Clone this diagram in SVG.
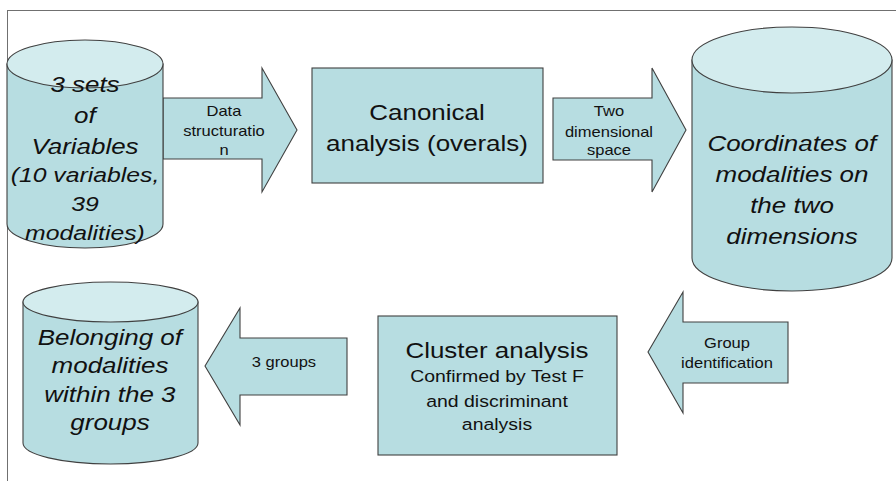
<svg xmlns="http://www.w3.org/2000/svg" width="896" height="481" viewBox="0 0 896 481">
<style>
.sh{fill:#B7DDE1;stroke:#404040;stroke-width:1.1}
.top{fill:#D3ECEE;stroke:#404040;stroke-width:1.1}
text{font-family:"Liberation Sans",Arial,sans-serif;fill:#111;text-anchor:middle;transform-box:fill-box;transform-origin:center;transform:scaleX(1.18)}
.big{font-size:22px}
.it{font-style:italic}
.sm{font-size:14px}
.md{font-size:16.5px}
.v{font-size:21px}
</style>
<rect x="7.5" y="10.5" width="900" height="480" fill="#fff" stroke="#707070" stroke-width="1"/>
<g id="connectors">
<polygon class="sh" points="163,98 262,98 262,68 297,130 262,192 262,159 163,159"/>
<polygon class="sh" points="553,98 652,98 652,68 686,130 652,192 652,160 553,160"/>
<polygon class="sh" points="648,352 683,292 683,322 788,322 788,383 683,383 683,413"/>
<polygon class="sh" points="205,366 240,308 240,338 347,338 347,395 240,395 240,425"/>
<text class="sm" x="224" y="116">Data</text>
<text class="sm" x="224" y="136">structuratio</text>
<text class="sm" x="224" y="155">n</text>
<text class="sm" x="609" y="116">Two</text>
<text class="sm" x="609" y="137">dimensional</text>
<text class="sm" x="609" y="155">space</text>
<text class="sm" x="727" y="348">Group</text>
<text class="sm" x="727" y="368">identification</text>
<text class="sm" x="284" y="367">3 groups</text>
</g>
<g id="variables">
<path class="sh" d="M7,64 L7,224 A78,24 0 0 0 163,224 L163,64 Z"/>
<ellipse class="top" cx="85" cy="64" rx="78" ry="24"/>
<text class="big it" x="85" y="92">3 sets</text>
<text class="big it" x="85" y="123">of</text>
<text class="big it" x="85" y="154">Variables</text>
<text class="v it" x="85" y="182">(10 variables,</text>
<text class="v it" x="85" y="211">39</text>
<text class="v it" x="85" y="240">modalities)</text>
</g>
<g id="canonical">
<rect class="sh" x="312" y="68" width="231" height="115"/>
<text class="big" x="427" y="120">Canonical</text>
<text class="big" x="427" y="151">analysis (overals)</text>
</g>
<g id="coordinates">
<path class="sh" d="M692,60 L692,258 A100,33 0 0 0 892,258 L892,60 Z"/>
<ellipse class="top" cx="792" cy="60" rx="100" ry="33"/>
<text class="big it" x="792" y="151">Coordinates of</text>
<text class="big it" x="792" y="182">modalities on</text>
<text class="big it" x="792" y="213">the two</text>
<text class="big it" x="792" y="244">dimensions</text>
</g>
<g id="cluster">
<rect class="sh" x="378" y="316" width="239" height="139"/>
<text class="big" x="497" y="358">Cluster analysis</text>
<text class="md" x="497" y="382">Confirmed by Test F</text>
<text class="md" x="497" y="407">and discriminant</text>
<text class="md" x="497" y="430">analysis</text>
</g>
<g id="belonging">
<path class="sh" d="M23,302 L23,443 A87.5,21 0 0 0 198,443 L198,302 Z"/>
<ellipse class="top" cx="110.5" cy="302" rx="87.5" ry="20"/>
<text class="big it" x="110" y="345">Belonging of</text>
<text class="big it" x="110" y="373">modalities</text>
<text class="big it" x="110" y="402">within the 3</text>
<text class="big it" x="110" y="430">groups</text>
</g>
</svg>
